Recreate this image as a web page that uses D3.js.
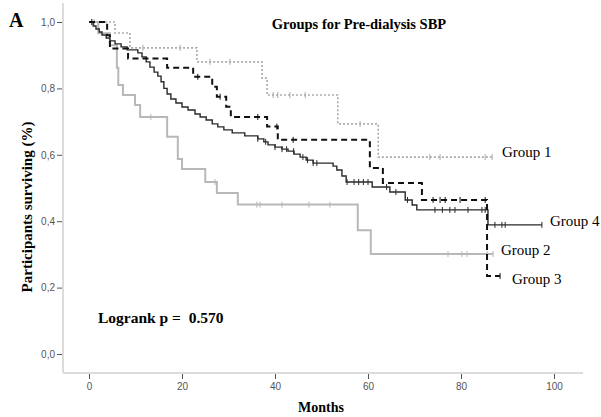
<!DOCTYPE html>
<html>
<head>
<meta charset="utf-8">
<script src="https://cdn.jsdelivr.net/npm/d3@7"></script>
<style>
  body { margin: 0; background: #fff; }
  .tick text { font-family: "Liberation Sans", Arial, sans-serif; font-size: 10px; fill: #555; }
  .serif { font-family: "Liberation Serif", "Times New Roman", serif; fill: #000; }
</style>
</head>
<body>
<div id="chart"></div>
<script>
// Kaplan-Meier steps: [month, survival]
var group1 = [[0, 1], [5.6, 0.967], [8.8, 0.922], [23.2, 0.88], [37.2, 0.831], [38.3, 0.78],
    [53.5, 0.693], [62.2, 0.593], [86.7, 0.593]];
var group1Censor = [1.1, 11.6, 19.6, 26, 30.3, 39.6, 40.6, 43.2, 46.5, 58.3, 73.3, 75.5, 85.2, 86.7];

var group2 = [[0, 1], [2, 0.966], [4.5, 0.93], [6.0, 0.862], [6.3, 0.81], [7.3, 0.78], [9.9, 0.75],
    [11, 0.714], [16.8, 0.654], [19.1, 0.587], [20, 0.557], [25, 0.518], [27.5, 0.485],
    [32, 0.45], [57.8, 0.373], [60.6, 0.301], [86.9, 0.301]];
var group2Censor = [13.3, 27.1, 36.1, 36.8, 41.5, 47.3, 51.8, 77.2, 80.2, 81.3, 85.6, 86.9];

var group3 = [[0, 1], [3.9, 0.96], [4.5, 0.92], [8.4, 0.89], [16.8, 0.862], [22.4, 0.835],
    [26.5, 0.805], [27.5, 0.775], [29.5, 0.745], [30.5, 0.714], [38.3, 0.685], [40.6, 0.645],
    [60.4, 0.56], [63.2, 0.515], [71.6, 0.464], [85.6, 0.235], [88.4, 0.235]];
var group3Censor = [0.6, 23.4, 28.2, 36.3, 40.4, 43.9, 74, 75.5, 76.6, 79.8, 85.2, 88.4];

var group4 = [[0, 1], [0.9, 0.988], [1.5, 0.979], [2.2, 0.97], [2.8, 0.961], [3.7, 0.952],
    [4.5, 0.943], [5.6, 0.934], [6.9, 0.925], [8.2, 0.916], [10.5, 0.907], [11.4, 0.895],
    [12.3, 0.88], [13.1, 0.864], [14.0, 0.849], [14.8, 0.837], [15.5, 0.82], [16.1, 0.8],
    [16.8, 0.783], [17.6, 0.768], [18.7, 0.756], [20.0, 0.744], [21.3, 0.735], [22.8, 0.723],
    [23.9, 0.714], [25.2, 0.705], [26.5, 0.693], [27.7, 0.684], [29.0, 0.675], [30.8, 0.666],
    [33.5, 0.657], [36.3, 0.648], [37.6, 0.639], [38.5, 0.63], [40.0, 0.623], [41.5, 0.617],
    [42.8, 0.611], [44.1, 0.602], [45.4, 0.593], [46.7, 0.584], [48.2, 0.575], [52.5, 0.566],
    [53.3, 0.554], [54.4, 0.536], [55.3, 0.518], [60.9, 0.503], [64.7, 0.488], [68, 0.464],
    [69.5, 0.449], [70.5, 0.434], [85.8, 0.389], [97.4, 0.389]];
var group4Censor = [36.3, 38, 40, 41.5, 42.5, 44, 46, 47, 48.2, 49, 55.5, 57, 58, 59, 60, 64, 66,
    68.5, 74.4, 76, 77.6, 78.7, 81.5, 84.5, 85.2, 87.3, 88.8, 89.5, 97.4];

var xTicks = [0, 20, 40, 60, 80, 100];
var yTicks = [0, 0.2, 0.4, 0.6, 0.8, 1.0];

var groups = [
    { name: "Group 1", steps: group1, censor: group1Censor, color: "#aaaaaa", width: 1.6, dash: "2,2", lx: 502, ly: 157 },
    { name: "Group 2", steps: group2, censor: group2Censor, color: "#b8b8b8", width: 2, dash: null, lx: 501, ly: 255 },
    { name: "Group 4", steps: group4, censor: group4Censor, color: "#2a2a2a", width: 1.4, dash: null, lx: 550, ly: 226 },
    { name: "Group 3", steps: group3, censor: group3Censor, color: "#111", width: 2, dash: "6,4", lx: 512, ly: 284 }
];

var width = 601, height = 417;

var svg = d3.select("#chart")
    .append("svg")
    .attr("width", width)
    .attr("height", height);

// scales: 0 months at x=89, 100 at x=554; survival 1 at y=22, 0 at y=354
var x = d3.scaleLinear().domain([0, 100]).range([89, 554]);
var y = d3.scaleLinear().domain([0, 1]).range([354, 22]);

// axis frame lines
svg.append("line")
    .attr("x1", 63).attr("x2", 63).attr("y1", 3).attr("y2", 373)
    .attr("stroke", "#dcdcdc").attr("stroke-width", 2);
svg.append("line")
    .attr("x1", 63).attr("x2", 583).attr("y1", 373).attr("y2", 373)
    .attr("stroke", "#dcdcdc").attr("stroke-width", 2);

// Y axis
var yAxis = svg.append("g")
    .attr("transform", "translate(62,0)")
    .call(d3.axisLeft(y).tickValues(yTicks).tickSize(5).tickPadding(2)
        .tickFormat(function (d) { return d3.format(".1f")(d).replace(".", ","); }));
yAxis.select(".domain").remove();
yAxis.selectAll(".tick line").attr("stroke", "#555");

// X axis
var xAxis = svg.append("g")
    .attr("transform", "translate(0,374)")
    .call(d3.axisBottom(x).tickValues(xTicks).tickSize(5).tickPadding(4));
xAxis.select(".domain").remove();
xAxis.selectAll(".tick line").attr("stroke", "#555");

var line = d3.line()
    .x(function (d) { return x(d[0]); })
    .y(function (d) { return y(d[1]); })
    .curve(d3.curveStepAfter);

function survAt(steps, t) {
    var s = steps[0][1];
    steps.forEach(function (d) { if (d[0] <= t) s = d[1]; });
    return s;
}

groups.forEach(function (g) {
    svg.append("path")
        .datum(g.steps)
        .attr("fill", "none")
        .attr("stroke", g.color)
        .attr("stroke-width", g.width)
        .attr("stroke-dasharray", g.dash)
        .attr("d", line);

    // censor marks
    svg.selectAll(null)
        .data(g.censor)
        .enter()
        .append("line")
        .attr("x1", function (d) { return x(d); })
        .attr("x2", function (d) { return x(d); })
        .attr("y1", function (d) { return y(survAt(g.steps, d)) - 3; })
        .attr("y2", function (d) { return y(survAt(g.steps, d)) + 3; })
        .attr("stroke", g.color)
        .attr("stroke-width", 1);

    svg.append("text")
        .attr("class", "serif")
        .attr("x", g.lx)
        .attr("y", g.ly)
        .style("font-size", "15px")
        .text(g.name);
});

// labels
svg.append("text")
    .attr("class", "serif")
    .attr("x", 9).attr("y", 27)
    .style("font-size", "20px").style("font-weight", "bold")
    .text("A");

svg.append("text")
    .attr("class", "serif")
    .attr("text-anchor", "middle")
    .attr("x", 359).attr("y", 29)
    .style("font-size", "14.5px").style("font-weight", "bold")
    .text("Groups for Pre-dialysis SBP");

svg.append("text")
    .attr("class", "serif")
    .attr("x", 98).attr("y", 323)
    .style("font-size", "15.5px").style("font-weight", "bold")
    .attr("xml:space", "preserve")
    .style("white-space", "pre")
    .text("Logrank p =  0.570");

svg.append("text")
    .attr("class", "serif")
    .attr("text-anchor", "middle")
    .attr("x", 321).attr("y", 412)
    .style("font-size", "14px").style("font-weight", "bold")
    .text("Months");

svg.append("text")
    .attr("class", "serif")
    .attr("text-anchor", "middle")
    .attr("transform", "rotate(-90)")
    .attr("x", -207).attr("y", 32)
    .style("font-size", "15px").style("font-weight", "bold")
    .text("Participants surviving (%)");
</script>
</body>
</html>
